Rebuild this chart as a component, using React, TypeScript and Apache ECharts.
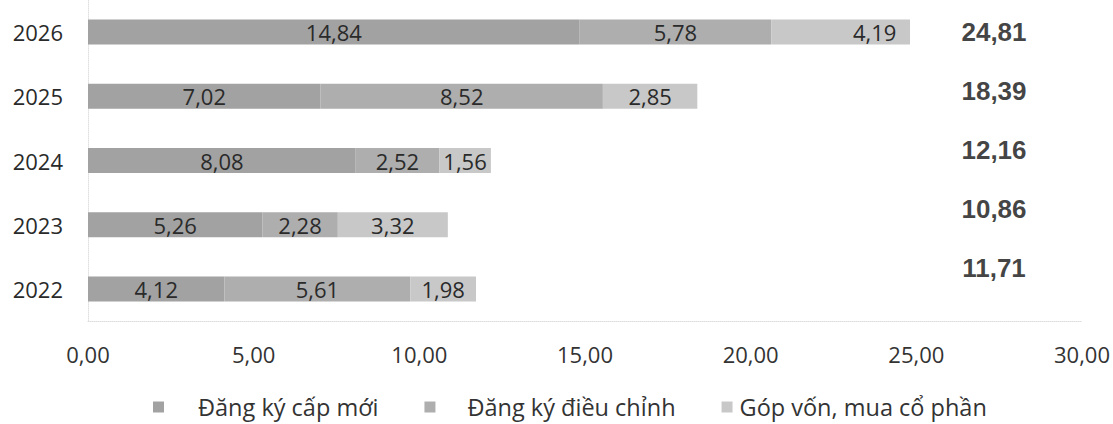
import React, { useEffect, useRef } from "react";
import * as echarts from "echarts";

const years = ["2022", "2023", "2024", "2025", "2026"];
const dangKyCapMoi = [4.12, 5.26, 8.08, 7.02, 14.84];
const dangKyDieuChinh = [5.61, 2.28, 2.52, 8.52, 5.78];
const gopVon = [1.98, 3.32, 1.56, 2.85, 4.19];
const totals = [11.71, 10.86, 12.16, 18.39, 24.81];
const seriesNames = ["Đăng ký cấp mới", "Đăng ký điều chỉnh", "Góp vốn, mua cổ phần"];

const fmt = (v: number) => v.toFixed(2).replace(".", ",");
const FONT = "'Open Sans', 'Noto Sans', sans-serif";

export default function App() {
  const ref = useRef<HTMLDivElement>(null);
  useEffect(() => {
    if (!ref.current) return;
    const chart = echarts.init(ref.current, null, { renderer: "svg" });
    const barLabel = {
      show: true,
      position: "inside" as const,
      color: "#2a2a2a",
      fontFamily: FONT,
      fontSize: 22,
      formatter: (p: any) => fmt(p.value),
    };
    chart.setOption({
      animation: false,
      backgroundColor: "#ffffff",
      grid: [
        { left: 88, right: 29, top: -6, bottom: 103 },
        { left: 960, width: 68, top: 2, height: 295 },
      ],
      legend: {
        bottom: 0,
        left: 148,
        itemWidth: 11,
        itemHeight: 11,
        itemGap: 46,
        icon: "rect",
        textStyle: { fontFamily: FONT, fontSize: 23.5, color: "#333" },
        data: [
          { name: seriesNames[0], textStyle: { padding: [0, 0, 0, 29] } },
          { name: seriesNames[1], textStyle: { padding: [0, 0, 0, 27] } },
          { name: seriesNames[2], textStyle: { padding: [0, 0, 0, 2] } },
        ],
      },
      xAxis: [
        {
          gridIndex: 0,
          type: "value",
          min: 0,
          max: 30,
          interval: 5,
          splitLine: { show: false },
          axisTick: { show: false },
          axisLine: { show: true, lineStyle: { color: "#dcdcdc", type: "dotted", width: 1 } },
          axisLabel: {
            formatter: (v: number) => fmt(v),
            fontFamily: FONT,
            fontSize: 22,
            color: "#333",
            margin: 22,
          },
        },
        { gridIndex: 1, type: "value", min: 0, max: 1, show: false },
      ],
      yAxis: [
        {
          gridIndex: 0,
          type: "category",
          data: years,
          axisTick: { show: false },
          axisLine: { show: true, lineStyle: { color: "#e0e0e0", type: "dotted" } },
          axisLabel: { fontFamily: FONT, fontSize: 22, color: "#2a2a2a", margin: 25 },
        },
        { gridIndex: 1, type: "category", data: years, show: false },
      ],
      series: [
        {
          name: seriesNames[0],
          type: "bar",
          stack: "total",
          barWidth: 25,
          itemStyle: { color: "#a2a2a2" },
          label: barLabel,
          data: dangKyCapMoi,
        },
        {
          name: seriesNames[1],
          type: "bar",
          stack: "total",
          barWidth: 25,
          itemStyle: { color: "#aeaeae" },
          label: barLabel,
          data: dangKyDieuChinh,
        },
        {
          name: seriesNames[2],
          type: "bar",
          stack: "total",
          barWidth: 25,
          itemStyle: { color: "#c8c8c8" },
          label: barLabel,
          data: gopVon.map((v, i) =>
            i === gopVon.length - 1 ? { value: v, label: { offset: [34, 0] } } : v
          ),
        },
        {
          type: "scatter",
          xAxisIndex: 1,
          yAxisIndex: 1,
          symbolSize: 0,
          silent: true,
          data: totals.map((t, i) => [0.5, years[i], t]),
          encode: { x: 0, y: 1 },
          label: {
            show: true,
            position: "inside",
            fontFamily: "'Liberation Sans', Arial, sans-serif",
            fontWeight: "bold",
            fontSize: 26,
            color: "#111",
            formatter: (p: any) => fmt(p.value[2]),
          },
        },
      ],
    });
    return () => chart.dispose();
  }, []);
  return (
    <div
      ref={ref}
      style={{ position: "fixed", left: 0, top: 0, width: 1113, height: 424 }}
    />
  );
}
